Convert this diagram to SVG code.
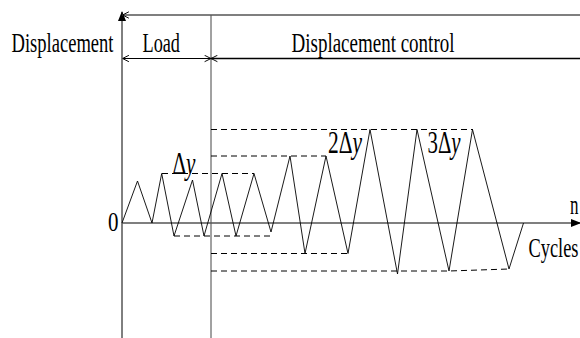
<svg xmlns="http://www.w3.org/2000/svg" width="580" height="338" viewBox="0 0 580 338">
<style>
.lbl{font-family:'Liberation Serif','DejaVu Serif',serif;font-size:27px;fill:#000}
.big{font-size:31px}
.ax{fill:none;stroke:#000;stroke-width:1}
.gax{fill:none;stroke:#555;stroke-width:1.6}
.dash{fill:none;stroke:#000;stroke-width:1;stroke-dasharray:6 4}
.wave{fill:none;stroke:#000;stroke-width:0.9;stroke-linejoin:miter}
</style>
<defs>
<marker id="fillArrow" viewBox="0 0 10 10" refX="9" refY="5" markerWidth="10" markerHeight="10" markerUnits="userSpaceOnUse" orient="auto">
<path d="M0,1 L10,5 L0,9 Z" fill="#000"/>
</marker>
<marker id="openArrow" viewBox="0 0 10 10" refX="10" refY="5" markerWidth="8" markerHeight="8" markerUnits="userSpaceOnUse" orient="auto-start-reverse">
<path d="M2,1 L10,5 L2,9" fill="none" stroke="#000" stroke-width="1.2"/>
</marker>
</defs>
<rect width="580" height="338" fill="#fff"/>
<g id="connectors">
<line class="ax" x1="122" y1="338" x2="122" y2="12" marker-end="url(#fillArrow)"/>
<line x1="211" y1="15" x2="211" y2="338" stroke="#444" stroke-width="1"/>
<line class="gax" x1="122.5" y1="15" x2="581" y2="15" marker-start="url(#openArrow)"/>
<line class="ax" x1="122.5" y1="58.5" x2="211" y2="58.5" marker-start="url(#openArrow)" marker-end="url(#openArrow)"/>
<line x1="211" y1="58.5" x2="581" y2="58.5" stroke="#000" stroke-width="1.6" marker-start="url(#openArrow)"/>
<line class="gax" x1="122" y1="223" x2="580" y2="223" marker-end="url(#fillArrow)"/>
</g>
<g id="dashed-levels">
<line class="dash" x1="211" y1="129.5" x2="473" y2="129.5"/>
<line class="dash" x1="211" y1="156" x2="326" y2="156"/>
<line class="dash" x1="162" y1="173.5" x2="254" y2="173.5"/>
<line class="dash" x1="174" y1="236" x2="271" y2="236"/>
<line class="dash" x1="211" y1="253.5" x2="348" y2="253.5"/>
<polyline class="dash" points="211,271 449,271 509,269"/>
</g>
<g id="loading-history">
<polyline class="wave" points="122,223 137.5,181 152,223 161.7,173.5 174,236 192.5,180 204,236 222,173.5 236,236 254,173.5 271,232 290,156 305,253.5 326,156 348,253.5 370,129.5 397.5,274 417,129.5 449,271 472.5,129.5 509,269 523.5,223"/>
</g>
<g id="labels" font-family="Liberation Serif, DejaVu Serif, serif">
<text class="lbl" x="11.5" y="51.5" textLength="102" lengthAdjust="spacingAndGlyphs">Displacement</text>
<text class="lbl" x="142.5" y="51.5" textLength="37.5" lengthAdjust="spacingAndGlyphs">Load</text>
<text class="lbl" x="291.5" y="51.5" textLength="163" lengthAdjust="spacingAndGlyphs">Displacement control</text>
<text class="lbl" x="108" y="231" textLength="10.5" lengthAdjust="spacingAndGlyphs">0</text>
<text class="lbl" x="570" y="213.5" textLength="8.5" lengthAdjust="spacingAndGlyphs">n</text>
<text class="lbl" x="528.5" y="256.5" textLength="50" lengthAdjust="spacingAndGlyphs">Cycles</text>
<text class="lbl big" x="172.5" y="173.5" textLength="23" lengthAdjust="spacingAndGlyphs">Δ<tspan font-style="italic">y</tspan></text>
<text class="lbl big" x="328" y="153" textLength="34" lengthAdjust="spacingAndGlyphs">2Δ<tspan font-style="italic">y</tspan></text>
<text class="lbl big" x="427.5" y="153" textLength="33" lengthAdjust="spacingAndGlyphs">3Δ<tspan font-style="italic">y</tspan></text>
</g>
</svg>
